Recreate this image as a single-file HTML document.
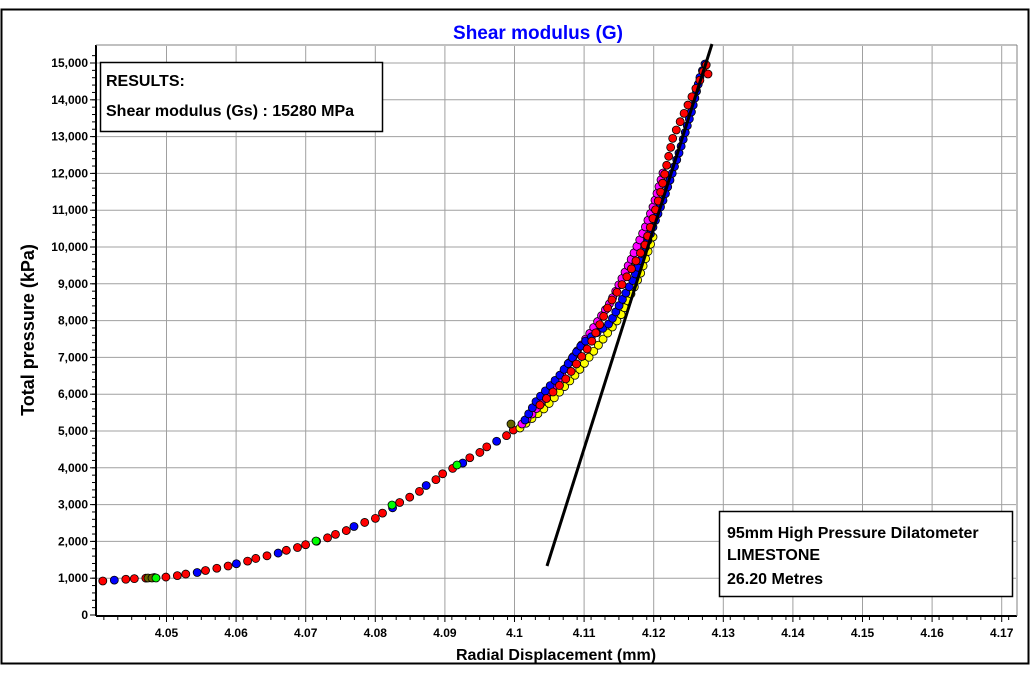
<!DOCTYPE html>
<html><head><meta charset="utf-8"><style>
body{margin:0;background:#fff;width:1031px;height:676px;overflow:hidden;font-family:"Liberation Sans",Arial,sans-serif}
</style></head><body>
<svg id="s" width="1031" height="676" xmlns="http://www.w3.org/2000/svg" font-family="Liberation Sans, Arial, sans-serif">
<rect x="1.5" y="9.5" width="1027" height="654" fill="#fff" stroke="#000" stroke-width="2"/>
<g id="grid" stroke="#a0a0a0" stroke-width="1"></g>
<g id="ticks" stroke="#000" stroke-width="1"></g>
<g id="labels" font-size="12" font-weight="bold" fill="#000"></g>
<line x1="96" y1="45" x2="96" y2="616" stroke="#000" stroke-width="2"/>
<line x1="96" y1="616" x2="1017" y2="616" stroke="#000" stroke-width="2"/>
<line x1="96" y1="45" x2="1017" y2="45" stroke="#808080" stroke-width="1"/>
<line x1="1017" y1="45" x2="1017" y2="616" stroke="#808080" stroke-width="1"/>
<text x="538" y="39" text-anchor="middle" font-size="19" font-weight="bold" fill="#0000ff">Shear modulus (G)</text>
<text x="556" y="660" text-anchor="middle" font-size="16" font-weight="bold">Radial Displacement (mm)</text>
<text transform="translate(34,330) rotate(-90)" text-anchor="middle" font-size="18" font-weight="bold">Total pressure (kPa)</text>
<g id="dots" stroke="#000" stroke-width="0.8"></g>
<line x1="547" y1="566" x2="712" y2="44" stroke="#000" stroke-width="3"/>
<rect x="100.5" y="62.5" width="282" height="69" fill="#fff" stroke="#000" stroke-width="1.5"/>
<text x="106" y="86" font-size="16" font-weight="bold">RESULTS:</text>
<text x="106" y="116" font-size="16" font-weight="bold">Shear modulus (Gs) : 15280 MPa</text>
<rect x="719.5" y="511.5" width="293" height="85" fill="#fff" stroke="#000" stroke-width="1.5"/>
<text x="727" y="538" font-size="16" font-weight="bold">95mm High Pressure Dilatometer</text>
<text x="727" y="560" font-size="16" font-weight="bold">LIMESTONE</text>
<text x="727" y="584" font-size="16" font-weight="bold">26.20 Metres</text>
</svg>
<script>
var NS="http://www.w3.org/2000/svg";
function el(p,t,a,txt){var e=document.createElementNS(NS,t);for(var k in a)e.setAttribute(k,a[k]);if(txt)e.textContent=txt;document.getElementById(p).appendChild(e);}
function X(v){return 166.5+(v-4.05)*6960;}
function Y(v){return 615-v*0.0368;}
for(var i=0;i<13;i++){var x=X(4.05+i*0.01);el("grid","line",{x1:x,y1:46,x2:x,y2:615});
 el("ticks","line",{x1:x,y1:616,x2:x,y2:622});
 el("labels","text",{x:x,y:637,"text-anchor":"middle"},(4.05+i*0.01).toFixed(2).replace(/0$/,""));}
for(var v=4.041;v<4.172;v+=0.002){var x=X(v);el("ticks","line",{x1:x,y1:616,x2:x,y2:620});}
for(var i=0;i<=15;i++){var y=Y(i*1000);if(i>0)el("grid","line",{x1:97,y1:y,x2:1016,y2:y});
 el("ticks","line",{x1:90,y1:y,x2:96,y2:y});
 el("labels","text",{x:88,y:y+4,"text-anchor":"end"},(i*1000).toLocaleString("en-US"));}
for(var i=0;i<=76;i++){var y=Y(i*200);el("ticks","line",{x1:92,y1:y,x2:96,y2:y});}
function path(pts,n,c,j){var L=[0];for(var i=1;i<pts.length;i++)L.push(L[i-1]+Math.hypot(pts[i][0]-pts[i-1][0],pts[i][1]-pts[i-1][1]));
 var T=L[L.length-1];for(var k=0;k<n;k++){var d=T*k/(n-1),i=1;while(i<L.length-1&&L[i]<d)i++;var f=(d-L[i-1])/(L[i]-L[i-1]);
 var x=pts[i-1][0]+f*(pts[i][0]-pts[i-1][0]),y=pts[i-1][1]+f*(pts[i][1]-pts[i-1][1]);
 var col=typeof c=="function"?c(k):c;el("dots","circle",{cx:x+(j?((k*7)%5-2)*0.6:0),cy:y,r:4,fill:col});}}
var low=[[104,581],[128,579],[167,577],[200,572],[236,564],[270,555],[306,545],[340,533],[375,518],[410,497],[445,473],[480,452],[514,430]];
path(low,44,function(k){return k%4==1?"#0000ff":"#ff0000";},1);
el("dots","circle",{cx:148,cy:578,r:4,fill:"#666600"});el("dots","circle",{cx:152,cy:578,r:4,fill:"#666600"});el("dots","circle",{cx:156,cy:578,r:4,fill:"#00ff00"});
el("dots","circle",{cx:316,cy:541,r:4,fill:"#00ff00"});el("dots","circle",{cx:392,cy:505,r:4,fill:"#00ff00"});el("dots","circle",{cx:457,cy:465,r:4,fill:"#00ff00"});
el("dots","circle",{cx:511,cy:424,r:4,fill:"#666600"});el("dots","circle",{cx:635,cy:265,r:4,fill:"#666600"});
path([[520,428],[545,408],[577,373],[597,347],[620,317],[640,275],[653,237]],32,"#ffff00");
path([[522,424],[533,413],[555,385],[573,357],[590,333],[610,303],[630,262],[645,228],[653,207],[663,173]],42,"#ff00ff");
path([[525,420],[537,400],[560,375],[583,343],[610,323],[622,300],[633,280],[650,235],[665,195],[680,150],[692,110],[700,77],[705,64]],58,"#0000ff");
path([[540,405],[565,380],[590,345],[610,303],[625,280],[645,245],[660,195],[673,137],[688,105],[700,80],[706,64],[708,74]],44,"#ff0000");
</script>
</body></html>
